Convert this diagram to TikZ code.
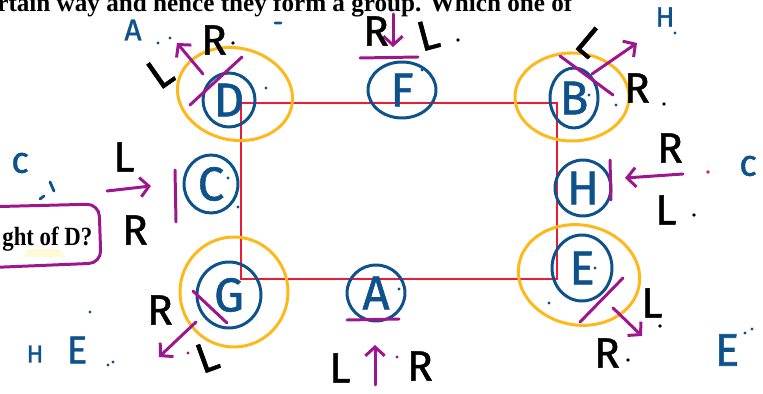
\documentclass[tikz,border=0pt]{standalone}
\usepackage{fontspec}
\setmainfont{Liberation Serif}
\newfontfamily\hand[FakeBold=1.2]{Fira Sans}
\usetikzlibrary{shapes.geometric,arrows.meta}
\definecolor{inkblue}{RGB}{14,82,140}
\definecolor{inkpurple}{RGB}{158,22,142}
\definecolor{inkyellow}{RGB}{255,184,28}
\definecolor{inkred}{RGB}{232,28,52}
\definecolor{hilite}{RGB}{255,250,214}
\tikzset{
  hw/.style={font=\hand\fontsize{#1}{#1}\selectfont, inner sep=0pt},
  hw/.default=24,
  blk/.style={hw=#1, text=black},
  blk/.default=24,
  blu/.style={hw=#1, text=inkblue},
  blu/.default=20,
  letter/.style={ellipse, draw=inkblue, line width=1.7pt, text=inkblue,
    font=\hand\fontsize{27}{27}\selectfont, inner sep=0pt},
  ring/.style={draw=inkyellow, line width=1.7pt},
  pline/.style={draw=inkpurple, line width=1.7pt, line cap=round},
  parrow/.style={pline, -{Straight Barb[length=5pt,width=11pt,line width=1.7pt]}},
  redbox/.style={draw=inkred, line width=1.3pt},
}
\begin{document}
\begin{tikzpicture}[x=0.02cm,y=-0.02cm]
\useasboundingbox (0,0) rectangle (763,394);
\clip (0,0) rectangle (763,394);

% printed text
\node[anchor=base west, inner sep=0pt] (toptext) at (-3,12)
  {\resizebox{11.5cm}{!}{\bfseries rtain way and hence they form a group. Which one of}};
\fill[hilite] (22,257) -- (30,249) -- (58,249) -- (66,257) -- cycle;
\node[anchor=base west, inner sep=0pt] (question) at (2,246)
  {\resizebox{1.8cm}{0.37cm}{\bfseries ght of D?}};
\draw[inkpurple, line width=1.7pt, rounded corners=7pt] (-20,207) -- (99,204) -- (101,263) -- (-20,268);

% red rectangle
\draw[redbox] (241,103) rectangle (557,279);

% yellow rings
\draw[ring, rotate around={-12:(235,94)}] (235,94) ellipse [x radius=58, y radius=46];
\draw[ring] (572,97) ellipse [x radius=57, y radius=44];
\draw[ring] (234,292) ellipse [x radius=54, y radius=55];
\draw[ring, rotate around={-10:(579,275)}] (579,275) ellipse [x radius=61, y radius=50];

% lettered circles
\node[letter, minimum width=1.04cm, minimum height=1.08cm] (D) at (229,100) {D};
\node[letter, minimum width=1.36cm, minimum height=1.12cm] (F) at (402,90) {F};
\node[letter, minimum width=0.96cm, minimum height=1.20cm] (B) at (574,98) {B};
\node[letter, minimum width=1.08cm, minimum height=1.16cm] (C) at (211,184) {C};
\node[letter, minimum width=1.12cm, minimum height=1.12cm] (H) at (583,188) {H};
\node[letter, minimum width=1.28cm, minimum height=1.32cm] (G) at (229,295) {G};
\node[letter, minimum width=1.16cm, minimum height=1.12cm] (A) at (376,293) {A};
\node[letter, minimum width=1.20cm, minimum height=1.32cm] (E) at (582,268) {E};

% purple marks
\draw[pline] (190,105) -- (242,57);
\draw[parrow] (203,74) -- (177,43);
\draw[pline] (360,58) -- (418,57);
\draw[parrow] (393,14) -- (393,47);
\draw[pline] (560,56) -- (613,95);
\draw[parrow] (592,74) -- (637,43);
\draw[pline] (175,170) -- (176,222);
\draw[parrow] (107,191) -- (151,186);
\draw[pline] (610,160) -- (611,200);
\draw[parrow] (683,174) -- (625,178);
\draw[pline] (193,291) -- (227,323);
\draw[parrow] (196,322) -- (159,357);
\draw[pline] (347,320) -- (399,319);
\draw[parrow] (375,385) -- (375,345);
\draw[pline] (580,322) -- (623,278);
\draw[parrow] (613,308) -- (642,336);
\fill[inkpurple] (397,357) circle [radius=1.6] (188,353) circle [radius=1.6];

% black labels
\node[blk] (rD) at (214,40) {R};
\node[blk, rotate=35] (lD) at (160,73) {L};
\node[blk] (rF) at (376,31) {R};
\node[blk, rotate=15] (lF) at (428,35) {L};
\node[blk, rotate=-40] (lB) at (590,42) {L};
\node[blk] (rB) at (637,88) {R};
\node[blk] (lC) at (124,157) {L};
\node[blk] (rC) at (135,230) {R};
\node[blk] (rH) at (670,148) {R};
\node[blk] (lH) at (666,210) {L};
\node[blk] (rG) at (160,310) {R};
\node[blk, rotate=20] (lG) at (207,357) {L};
\node[blk] (lA) at (340,368) {L};
\node[blk] (rA) at (420,366) {R};
\node[blk] (lE) at (652,303) {L};
\node[blk] (rE) at (607,353) {R};
\fill[black] (233,43) circle [radius=1.8] (458,40) circle [radius=1.8]
  (664,104) circle [radius=1.8] (694,215) circle [radius=1.8]
  (660,326) circle [radius=1.8] (628,360) circle [radius=1.8];
\fill[inkred] (708,172) circle [radius=1.8];

% blue scribbles
\node[blu=17] (a1) at (133,30) {A};
\node[blu=16] (h1) at (665,17) {H};
\node[blu=21] (c1) at (20,163) {c};
\node[blu=21] (c2) at (748,166) {c};
\node[blu=14] (h2) at (35,354) {H};
\node[blu=22] (e1) at (77,350) {E};
\node[blu=26] (e2) at (727,350) {E};
\draw[inkblue, line width=1.6pt, line cap=round] (275,23) -- (281,23)
  (50,182) -- (54,191) (40,199) -- (44,196);
\fill[inkblue] (158,43) circle [radius=1.6] (170,38) circle [radius=1.6]
  (675,33) circle [radius=1.6] (90,312) circle [radius=1.6]
  (108,365) circle [radius=1.6] (113,362) circle [radius=1.6]
  (745,333) circle [radius=1.6] (752,329) circle [radius=1.6]
  (266,88) circle [radius=1.6] (589,95) circle [radius=1.6]
  (616,105) circle [radius=1.6] (228,178) circle [radius=1.6]
  (238,207) circle [radius=1.6] (399,289) circle [radius=1.6]
  (595,268) circle [radius=1.6] (549,303) circle [radius=1.6]
  (422,70) circle [radius=1.6];
\end{tikzpicture}
\end{document}
